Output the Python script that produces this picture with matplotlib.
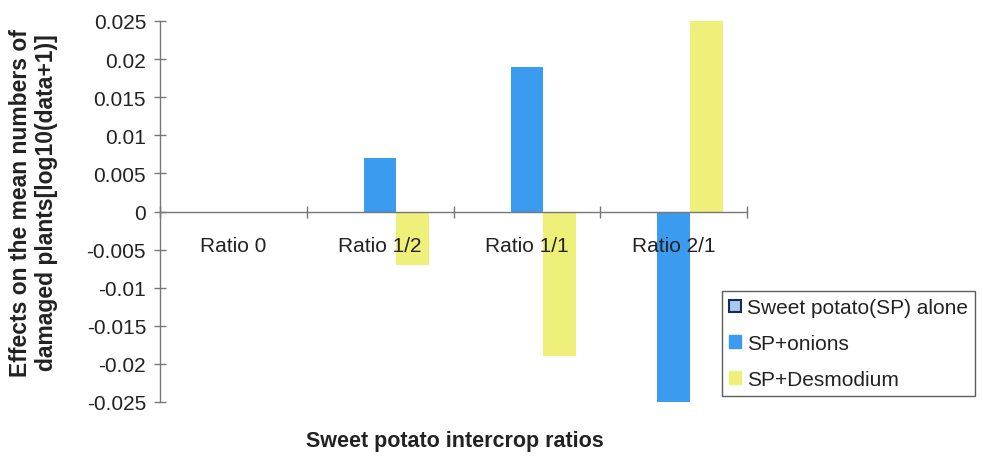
import matplotlib
matplotlib.use("Agg")
import matplotlib.pyplot as plt
import numpy as np
from matplotlib.patches import Patch

plt.rcParams['font.family'] = ['Liberation Sans', 'DejaVu Sans']

categories = ["Ratio 0", "Ratio 1/2", "Ratio 1/1", "Ratio 2/1"]
series_names = ["Sweet potato(SP) alone", "SP+onions", "SP+Desmodium"]
sp_alone = [0.0, 0.0, 0.0, 0.0]
sp_onions = [0.0, 0.007, 0.019, -0.025]
sp_desmodium = [0.0, -0.007, -0.019, 0.025]
y_ticks = [-0.025, -0.02, -0.015, -0.01, -0.005, 0, 0.005, 0.01, 0.015, 0.02, 0.025]
y_tick_labels = ["-0.025", "-0.02", "-0.015", "-0.01", "-0.005", "0",
                 "0.005", "0.01", "0.015", "0.02", "0.025"]

blue = "#3a9bef"
yellow = "#eef07a"
text_color = "#222222"

fig = plt.figure(figsize=(9.83, 4.60), dpi=100)
ax = fig.add_axes([160 / 983, 57 / 460, (747 - 160) / 983, (403 - 22) / 460])

x = np.arange(len(categories))
w = 1 / 4.5
ax.bar(x - w, sp_alone, width=w, color="#a8c8f0", edgecolor="#1a2a50", linewidth=0)
ax.bar(x, sp_onions, width=w, color=blue, linewidth=0)
ax.bar(x + w, sp_desmodium, width=w, color=yellow, linewidth=0)

ax.set_xlim(-0.5, len(categories) - 0.5)
ax.set_ylim(-0.025, 0.025)

for s in ["top", "right"]:
    ax.spines[s].set_visible(False)
ax.spines["bottom"].set_position(("data", 0))
for s in ["bottom", "left"]:
    ax.spines[s].set_color("#777777")
    ax.spines[s].set_linewidth(1.0)

ax.set_yticks(y_ticks)
ax.set_yticklabels(y_tick_labels)
ax.tick_params(axis="y", direction="inout", length=8, width=1.0, colors="#777777",
               labelsize=15, labelcolor=text_color, pad=6)

ax.set_xticks(np.arange(len(categories) + 1) - 0.5)
ax.set_xticklabels([])
ax.set_xticks(x, minor=True)
ax.set_xticklabels(categories, minor=True)
ax.tick_params(axis="x", which="major", direction="inout", length=8, width=1.0, colors="#777777")
ax.tick_params(axis="x", which="minor", length=0, labelsize=15, labelcolor=text_color, pad=18)

fig.text(0.034, (460 - 203) / 460, "Effects on the mean numbers of\ndamaged plants[log10(data+1)]",
         rotation=90, ha="center", va="center", fontsize=16.5, fontweight="bold",
         color=text_color, linespacing=1.15)
fig.text(455 / 983, 1 - 442 / 460, "Sweet potato intercrop ratios", ha="center", va="center",
         fontsize=15.5, fontweight="bold", color=text_color)

handles = [Patch(facecolor="#a8c8f0", edgecolor="#1a2a50", linewidth=1.5),
           Patch(facecolor=blue, edgecolor=blue),
           Patch(facecolor=yellow, edgecolor=yellow)]
leg = fig.legend(handles, series_names, loc="upper left",
                 bbox_to_anchor=(722 / 983, 1 - 292 / 460), bbox_transform=fig.transFigure,
                 borderaxespad=0, fontsize=15, frameon=True, fancybox=False,
                 handlelength=0.55, handleheight=0.55, handletextpad=0.3,
                 labelspacing=0.8, borderpad=0.35)
leg.get_frame().set_edgecolor("#333333")
leg.get_frame().set_linewidth(1.0)
for t in leg.get_texts():
    t.set_color(text_color)

fig.savefig("out.png", dpi=100)
